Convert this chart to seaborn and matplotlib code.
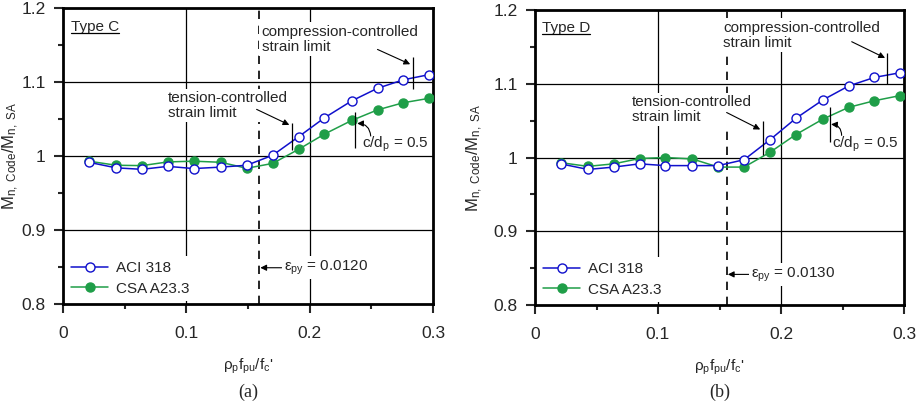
import numpy as np
import pandas as pd
import seaborn as sns
import matplotlib.pyplot as plt
from matplotlib.ticker import MultipleLocator, FuncFormatter
from matplotlib.lines import Line2D

sns.set_style("white")
plt.rcParams['font.family'] = ['Liberation Sans', 'DejaVu Sans']
plt.rcParams['mathtext.fontset'] = 'custom'
plt.rcParams['mathtext.rm'] = 'Liberation Sans'
plt.rcParams['mathtext.it'] = 'Liberation Sans:italic'
plt.rcParams['mathtext.default'] = 'regular'

#%% Data
ratio = [0.021, 0.043, 0.064, 0.085, 0.106, 0.128, 0.149,
         0.170, 0.191, 0.212, 0.234, 0.255, 0.276, 0.297]

aci_c = [0.9915, 0.984, 0.982, 0.986, 0.983, 0.985, 0.9875,
         1.001, 1.026, 1.0516, 1.0744, 1.0915, 1.103, 1.110]
csa_c = [0.993, 0.9875, 0.987, 0.992, 0.993, 0.9915, 0.9834,
         0.990, 1.009, 1.0296, 1.048, 1.0623, 1.072, 1.078]

aci_d = [0.9914, 0.9838, 0.987, 0.9914, 0.989, 0.989, 0.989,
         0.997, 1.024, 1.053, 1.078, 1.097, 1.1086, 1.115]
csa_d = [0.993, 0.988, 0.9914, 0.9986, 1.000, 0.998, 0.987,
         0.987, 1.007, 1.031, 1.052, 1.068, 1.077, 1.084]

series_names = ["ACI 318", "CSA A23.3"]
panel_titles = ["Type C", "Type D"]
panel_tags = ["(a)", "(b)"]
eps_py = ["0.0120", "0.0130"]

# annotation placement for each panel
layout = [
    dict(pos=[63, 8, 370, 296], eps_x=0.159, eps_y=0.849, title_x=0.0065, ylab_x=-0.113,
         ten_tick=(0.1855, 1.008, 1.044), ten_arrow=((0.157, 1.063), (0.1835, 1.042)), ten_txt=(0.0852, 1.068),
         com_tick=(0.2835, 1.090, 1.134), com_arrow=((0.255, 1.144), (0.2815, 1.124)), com_txt=(0.161, 1.158),
         cd_tick=(0.237, 1.011, 1.059), cd_arrow=((0.2495, 1.027), (0.2385, 1.044)), cd_txt=(0.2424, 1.016)),
    dict(pos=[535, 10, 369, 295], eps_x=0.1558, eps_y=0.8415, title_x=0.0054, ylab_x=-0.135,
         ten_tick=(0.1851, 1.003, 1.050), ten_arrow=((0.1558, 1.061), (0.1831, 1.038)), ten_txt=(0.0786, 1.0655),
         com_tick=(0.2864, 1.0995, 1.142), com_arrow=((0.2575, 1.157), (0.2846, 1.135)), com_txt=(0.1531, 1.166),
         cd_tick=(0.2398, 1.021, 1.069), cd_arrow=((0.2493, 1.030), (0.2407, 1.045)), cd_txt=(0.2412, 1.0176)),
]

blue = "#1010cc"
green = "#1f9e48"

W, H = 918, 404
fig = plt.figure(figsize=(W / 100, H / 100), dpi=100)

panels = [(aci_c, csa_c), (aci_d, csa_d)]
white_box = dict(facecolor="white", edgecolor="none", pad=1.5)
titles = []

for k, (aci, csa) in enumerate(panels):
    L = layout[k]
    x0, y0, w, h = L["pos"]
    ax = fig.add_axes([x0 / W, 1 - (y0 + h) / H, w / W, h / H])

    df = pd.DataFrame({"ratio": ratio, "ACI": aci, "CSA": csa})

    # grid lines and strain limit line
    ax.set_axisbelow(True)
    for yv in [0.9, 1.0, 1.1]:
        ax.axhline(yv, color="black", lw=0.9, zorder=0.5)
    for xv in [0.1, 0.2]:
        ax.axvline(xv, color="black", lw=0.9, zorder=0.5)
    ax.axvline(L["eps_x"], color="black", lw=1.2, ls=(0, (5, 4)), zorder=0.6)

    # data
    sns.lineplot(data=df, x="ratio", y="ACI", ax=ax, color=blue, lw=1.1,
                 marker="o", markersize=6.5, markerfacecolor="white",
                 markeredgecolor=blue, markeredgewidth=1.0, label=series_names[0], zorder=3)
    sns.lineplot(data=df, x="ratio", y="CSA", ax=ax, color=green, lw=1.1,
                 marker="o", markersize=6.5, markerfacecolor=green,
                 markeredgecolor=green, markeredgewidth=1.0, label=series_names[1], zorder=2.9)

    # axes
    ax.set_xlim(0, 0.3)
    ax.set_ylim(0.8, 1.2)
    ax.xaxis.set_major_locator(MultipleLocator(0.1))
    ax.xaxis.set_minor_locator(MultipleLocator(0.05))
    ax.yaxis.set_major_locator(MultipleLocator(0.1))
    ax.yaxis.set_minor_locator(MultipleLocator(0.05))
    fmt = FuncFormatter(lambda v, p: "{:g}".format(round(v, 3)))
    ax.xaxis.set_major_formatter(fmt)
    ax.yaxis.set_major_formatter(fmt)
    ax.tick_params(which="major", direction="out", length=6.5, width=1.5, labelsize=12.5,
                   bottom=True, left=True)
    ax.tick_params(axis="x", which="major", pad=9)
    ax.tick_params(axis="y", which="major", pad=6)
    ax.tick_params(which="minor", direction="out", length=3.5, width=1.5, bottom=True, left=True)
    for s in ax.spines.values():
        s.set_linewidth(2)
        s.set_color("black")

    ax.set_xlabel(r"$\rho_{p}f_{pu}/f_{c}$'", fontsize=11)
    ax.xaxis.set_label_coords(0.5, -0.178)
    ax.set_ylabel(r"$M_{n,\ Code}/M_{n,\ SA}$", fontsize=12)
    ax.yaxis.set_label_coords(L["ylab_x"], 0.5)
    ax.text(0.5, -0.297, panel_tags[k], transform=ax.transAxes, ha="center", va="center",
            fontsize=13, family=["Liberation Serif", "DejaVu Serif"])

    # panel title (underlined below after drawing)
    t = ax.text(L["title_x"], 1.175, panel_titles[k], fontsize=11, ha="left", va="center")
    titles.append((ax, t))

    # legend
    leg = ax.legend(loc="lower left", bbox_to_anchor=(0.0, 0.0), fontsize=11, frameon=True,
                    handlelength=2.4, handletextpad=0.55, labelspacing=0.42, borderpad=0.35,
                    borderaxespad=0.2)
    leg.get_frame().set_facecolor("white")
    leg.get_frame().set_edgecolor("none")
    leg.get_frame().set_alpha(1)
    leg.get_frame().set_boxstyle("square", pad=0)

    arrow = dict(arrowstyle="-|>", color="black", lw=0.8, mutation_scale=9, shrinkA=0, shrinkB=0)

    # eps_py label
    ax.annotate(r"$\epsilon_{py}$ = " + eps_py[k], xy=(L["eps_x"] + 0.001, L["eps_y"]),
                xytext=(L["eps_x"] + 0.020, L["eps_y"]), fontsize=11, va="center", ha="left",
                bbox=white_box, arrowprops=arrow, zorder=4)

    # tension-controlled limit
    tx, ty0, ty1 = L["ten_tick"]
    ax.vlines(tx, ty0, ty1, color="black", lw=0.9, zorder=4)
    ax.text(*L["ten_txt"], "tension-controlled\nstrain limit", fontsize=11, ha="left", va="center",
            linespacing=1.1, bbox=white_box, zorder=4)
    ax.annotate("", xy=L["ten_arrow"][1], xytext=L["ten_arrow"][0], arrowprops=arrow, zorder=4)

    # compression-controlled limit
    cx, cy0, cy1 = L["com_tick"]
    ax.vlines(cx, cy0, cy1, color="black", lw=0.9, zorder=4)
    ax.text(*L["com_txt"], "compression-controlled\nstrain limit", fontsize=11, ha="left", va="center",
            linespacing=1.1, bbox=white_box, zorder=4)
    ax.annotate("", xy=L["com_arrow"][1], xytext=L["com_arrow"][0], arrowprops=arrow, zorder=4)

    # c/dp = 0.5
    dx, dy0, dy1 = L["cd_tick"]
    ax.vlines(dx, dy0, dy1, color="black", lw=0.9, zorder=4)
    ax.text(*L["cd_txt"], r"c/d$_{p}$ = 0.5", fontsize=11, ha="left", va="center", zorder=4)
    ax.annotate("", xy=L["cd_arrow"][1], xytext=L["cd_arrow"][0],
                arrowprops=dict(arrow, connectionstyle="arc3,rad=0.45"), zorder=4)

# underline the panel titles
fig.canvas.draw()
renderer = fig.canvas.get_renderer()
for ax, t in titles:
    bb = t.get_window_extent(renderer)
    yy = bb.y0 + 1
    line = Line2D([bb.x0, bb.x1], [yy, yy], color="black", lw=0.9,
                  transform=None)
    fig.lines.append(line)

fig.savefig("out.png", dpi=100)
